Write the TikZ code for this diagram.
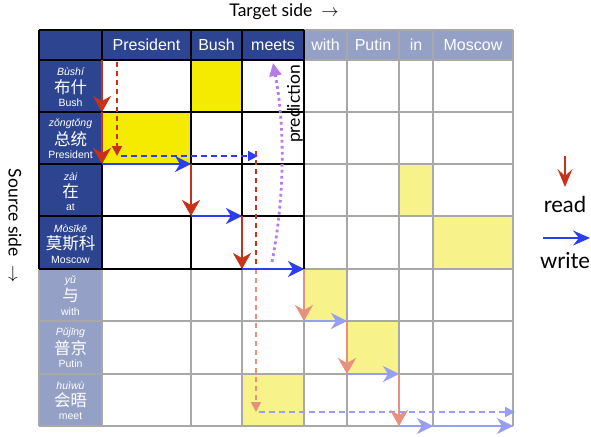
\documentclass[tikz,border=0pt]{standalone}
\usepackage{fontspec}
\setmainfont{Liberation Sans}
\newfontfamily\gill{Lato}
\newfontfamily\cjk{Noto Sans CJK SC}
\usetikzlibrary{arrows.meta}

\definecolor{hdark}{HTML}{2D4590}
\definecolor{hlight}{HTML}{95A0C6}
\definecolor{rdred}{HTML}{C83218}
\definecolor{rdpale}{HTML}{E8907E}
\definecolor{wrblue}{HTML}{2C3CF0}
\definecolor{wrpale}{HTML}{969EF6}
\definecolor{yel}{HTML}{F5EB00}
\definecolor{yelpale}{HTML}{F8F28A}
\definecolor{purp}{HTML}{B47CE8}
\definecolor{gridgray}{HTML}{A8A8A8}

\begin{document}
\begin{tikzpicture}[x=1pt, y=-1pt,
		rd/.style={rdred, line width=2.2pt, -{Stealth[length=16pt,width=18pt,inset=5pt]}},
		wr/.style={wrblue, line width=2.2pt, -{Stealth[length=16pt,width=16pt,inset=5pt]}},
		rdlight/.style={rd, rdpale},
		wrlight/.style={wr, wrpale},
		rddash/.style={rdred, line width=2pt, dash pattern=on 5pt off 4pt, -{Triangle[length=10pt,width=10pt]}},
		wrdash/.style={wrblue, line width=2pt, dash pattern=on 6pt off 4pt, -{Triangle[length=10pt,width=10pt]}},
		predict/.style={purp, line width=2.8pt, dash pattern=on 2.8pt off 3.2pt, -{Triangle[length=13pt,width=12pt]}},
		colhead/.style={text=white, font=\fontsize{16}{16}\selectfont},
		pinyin/.style={text=white, font=\fontsize{10.5}{10.5}\selectfont\itshape},
		hanzi/.style={text=white, font=\fontsize{16.5}{16.5}\cjk},
		gloss/.style={text=white, font=\fontsize{10.5}{10.5}\selectfont},
		side/.style={font=\fontsize{17.5}{17.5}\gill},
		legend/.style={font=\fontsize{22}{22}\gill}]
	\useasboundingbox (0,0) rectangle (591,436);

	\foreach \x [count=\i] in {102,191,242,304,347,399,433,513}
		\foreach \y [count=\j] in {60,112,164,216,269,321,374,426}
			\coordinate (p\i-\j) at (\x,\y);

	\fill[hdark] (39,30) rectangle (p4-1);
	\fill[hlight] (304,30) rectangle (p8-1);
	\fill[hdark] (39,60) rectangle (p1-5);
	\fill[hlight] (39,269) rectangle (p1-8);

	\fill[yel] (p2-1) rectangle (p3-2);
	\fill[yel] (p1-2) rectangle (p2-3);
	\fill[yelpale] (p6-3) rectangle (p7-4);
	\fill[yelpale] (p7-4) rectangle (p8-5);
	\fill[yelpale] (p4-5) rectangle (p5-6);
	\fill[yelpale] (p5-6) rectangle (p6-7);
	\fill[yelpale] (p3-7) rectangle (p4-8);

	\foreach \x in {39,102,191,242,304,347,399,433,513}
		\draw[gridgray, line width=1.2pt] (\x,30) -- (\x,426);
	\foreach \y in {30,60,112,164,216,269,321,374,426}
		\draw[gridgray, line width=1.2pt] (39,\y) -- (513,\y);
	\foreach \x in {39,102,191,242,304}
		\draw[black, line width=1.2pt] (\x,30) -- (\x,269);
	\foreach \y in {30,60,112,164,216,269}
		\draw[black, line width=1.2pt] (39,\y) -- (304,\y);

	\foreach \w/\x [count=\i] in {President/146.5, Bush/216.5, meets/273, with/325.5, Putin/373, in/416, Moscow/473}
		\node[colhead] (col\i) at (\x,45) {\w};

	\foreach \py/\zh/\en [count=\j, evaluate=\j as \yc using 86+52.2*(\j-1)] in
		{Bùshí/布什/Bush, zǒngtǒng/总统/President, zài/在/at, Mòsīkē/莫斯科/Moscow,
		 yǔ/与/with, Pǔjīng/普京/Putin, huìwù/会晤/meet}
	{
		\node[pinyin] (py\j) at (70.5,\yc-14) {\py};
		\node[hanzi] (zh\j) at (70.5,\yc+1) {\zh};
		\node[gloss] (en\j) at (70.5,\yc+17) {\en};
	}

	\coordinate (d0) at (117,62);
	\coordinate (d1) at (117,156);
	\coordinate (d2) at (258,156);
	\coordinate (d3) at (256,269);
	\coordinate (d4) at (256,412);
	\coordinate (d5) at (515,412);
	\draw[rddash] (d0) -- (d1);
	\draw[wrdash] ([xshift=4pt]d1) -- (d2);
	\draw[rddash, -] ([xshift=-2pt,yshift=5pt]d2) -- (d3);
	\draw[rddash, rdpale] (d3) -- (d4);
	\draw[wrdash, wrpale] ([xshift=3pt]d4) -- (d5);

	\coordinate (pr0) at (272,262);
	\coordinate (pr1) at (273,63);
	\draw[predict] (pr0) .. controls (286,190) and (284,120) .. (pr1);
	\node[side, rotate=90] (pred) at (295,104) {prediction};

	\draw[rd] (p1-1) -- (p1-2);
	\draw[rd] (p1-2) -- (p1-3);
	\draw[wr] (p1-3) -- (p2-3);
	\draw[rd] (p2-3) -- (p2-4);
	\draw[wr] (p2-4) -- (p3-4);
	\draw[rd] (p3-4) -- (p3-5);
	\draw[wr] (p3-5) -- (p4-5);
	\draw[rdlight] (p4-5) -- (p4-6);
	\draw[wrlight] (p4-6) -- (p5-6);
	\draw[rdlight] (p5-6) -- (p5-7);
	\draw[wrlight] (p5-7) -- (p6-7);
	\draw[rdlight] (p6-7) -- (p6-8);
	\draw[wrlight] (p6-8) -- (p7-8);
	\draw[wrlight] (p7-8) -- (p8-8);

	\node[side] (tgt) at (284,12) {Target side\ \ $\rightarrow$};
	\node[side, rotate=-90] (src) at (15,226) {Source side\ \ $\rightarrow$};

	\coordinate (lr0) at (565,156);
	\coordinate (lr1) at (565,187);
	\draw[rd, line width=1.8pt, -{Stealth[length=18pt,width=15pt,inset=7pt]}] (lr0) -- (lr1);
	\node[legend] (rdlab) at (565,204) {read};
	\coordinate (lw0) at (543,238);
	\coordinate (lw1) at (590,238);
	\draw[wr, -{Stealth[length=17pt,width=15pt,inset=6pt]}] (lw0) -- (lw1);
	\node[legend] (wrlab) at (565,261) {write};
\end{tikzpicture}
\end{document}
